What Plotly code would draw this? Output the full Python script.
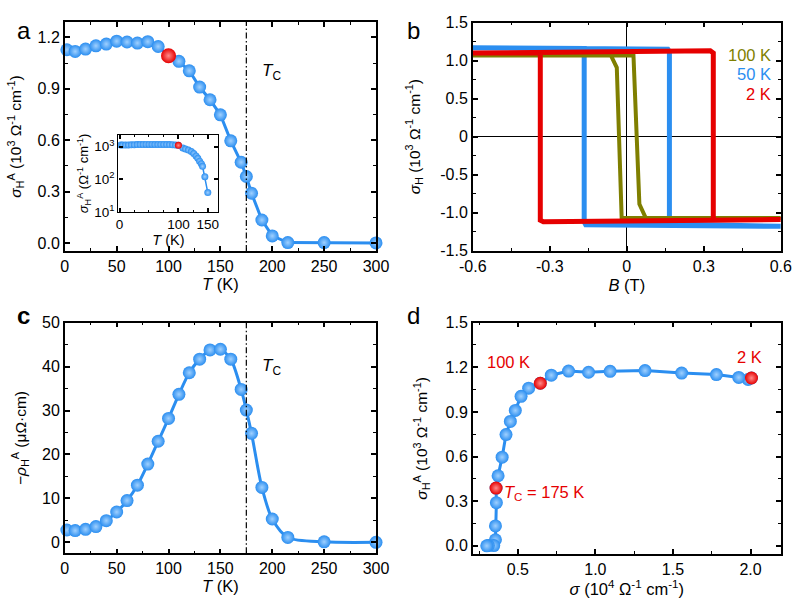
import plotly.graph_objects as go

# ---------------- data ----------------
T = [2, 10, 20, 30, 40, 50, 60, 70, 80, 90, 100, 110, 120, 130, 140, 150, 160, 170, 175, 180, 190, 200, 215, 250, 300]
sigma_AH = [1.128, 1.118, 1.132, 1.151, 1.161, 1.178, 1.173, 1.167, 1.175, 1.147, 1.093, 1.060, 1.005, 0.910, 0.836,
            0.748, 0.596, 0.471, 0.388, 0.290, 0.134, 0.041, 0.002, 0.002, 0.000]
rho_AH = [2.8, 2.66, 2.96, 3.57, 4.93, 6.9, 9.5, 13.0, 17.8, 23.0, 28.2, 33.7, 38.6, 41.7, 43.8, 43.95, 41.7, 34.8,
          30.1, 24.8, 12.5, 5.3, 1.1, 0.1, 0.0]
sigma_xx = [2.006, 1.984, 1.924, 1.78, 1.556, 1.32, 1.095, 0.956, 0.827, 0.716, 0.645, 0.57, 0.521, 0.484, 0.452,
            0.424, 0.399, 0.373, 0.36, 0.362, 0.356, 0.356, 0.345, 0.31, 0.30]

inset_T = [2, 5, 10, 15, 20, 25, 30, 35, 40, 45, 50, 55, 60, 65, 70, 75, 80, 85, 90, 95, 100,
           107.6, 112, 117, 122, 126, 130, 133, 136, 139, 141, 145, 150]
inset_sigma = [1130, 1120, 1120, 1130, 1140, 1150, 1160, 1170, 1170, 1180, 1180, 1180, 1170, 1170, 1170, 1170,
               1170, 1160, 1150, 1120, 1100, 910, 850, 790, 710, 620, 520, 440, 360, 300, 250, 120, 39]

# Hall loops (nodes of the loop path)
B_2K = [-0.60, 0.325, 0.337, 0.337, 0.60, -0.325, -0.337, -0.337, -0.60]
s_2K = [1.10, 1.13, 1.10, -1.10, -1.09, -1.12, -1.10, 1.10, 1.10]
B_50K = [-0.60, 0.16, 0.166, 0.166, 0.60, -0.16, -0.166, -0.166, -0.60]
s_50K = [1.17, 1.15, 1.12, -1.15, -1.18, -1.16, -1.12, 1.16, 1.17]
B_100K = [-0.60, 0.026, 0.049, 0.074, 0.60, -0.02, -0.039, -0.062, -0.60]
s_100K = [1.07, 1.07, -0.886, -1.07, -1.07, -1.07, 0.91, 1.07, 1.07]

highlight_a = [100]
highlight_d = [2, 100, 175]

b_y_ticks = [-1.5, -1.0, -0.5, 0, 0.5, 1.0, 1.5]
b_y_text = ["-1.5", "-1.0", "-0.5", "0", "0.5", "1.0", "1.5"]
b_x_ticks = [-0.6, -0.3, 0, 0.3, 0.6]
b_x_text = ["-0.6", "-0.3", "0", "0.3", "0.6"]
inset_x_ticks = [0, 100, 150]
inset_y_ticks = [10, 100, 1000]
inset_y_text = ["10<sup>1</sup>", "10<sup>2</sup>", "10<sup>3</sup>"]

# ---------------- style ----------------
BLUE = "#2b8ef0"
HILITE = "#9fd0ff"
RED = "#e60000"
OLIVE = "#7f7f00"
FONT = "Liberation Sans, Arial, sans-serif"
DASHDOT = "6px,2.5px,1.5px,2.5px"


def ball(size, color=BLUE):
    return dict(size=size, color=color, gradient=dict(type="radial", color=HILITE if color == BLUE else "#ff8a8a"),
                line=dict(width=0))


def pick(xs, ys, keys):
    idx = [T.index(k) for k in keys]
    return [xs[i] for i in idx], [ys[i] for i in idx]


fig = go.Figure()

# panel a
fig.add_trace(go.Scatter(x=T, y=sigma_AH, mode="lines+markers", line=dict(color=BLUE, width=3),
                         marker=ball(13), cliponaxis=False, xaxis="x", yaxis="y"))
hx, hy = pick(T, sigma_AH, highlight_a)
fig.add_trace(go.Scatter(x=hx, y=hy, mode="markers", marker=ball(15, RED), cliponaxis=False, xaxis="x", yaxis="y"))

# inset
fig.add_trace(go.Scatter(x=inset_T, y=inset_sigma, mode="lines+markers", line=dict(color=BLUE, width=1.5),
                         marker=ball(7), cliponaxis=False, xaxis="x5", yaxis="y5"))
ii = [inset_T.index(k) for k in highlight_a]
fig.add_trace(go.Scatter(x=[inset_T[i] for i in ii], y=[inset_sigma[i] for i in ii], mode="markers",
                         marker=ball(7, RED), cliponaxis=False, xaxis="x5", yaxis="y5"))

# panel b
fig.add_trace(go.Scatter(x=B_50K, y=s_50K, mode="lines", line=dict(color=BLUE, width=5), xaxis="x2", yaxis="y2"))
fig.add_trace(go.Scatter(x=B_100K, y=s_100K, mode="lines", line=dict(color=OLIVE, width=4), xaxis="x2", yaxis="y2"))
fig.add_trace(go.Scatter(x=B_2K, y=s_2K, mode="lines", line=dict(color=RED, width=5), xaxis="x2", yaxis="y2"))

# panel c
fig.add_trace(go.Scatter(x=T, y=rho_AH, mode="lines+markers", line=dict(color=BLUE, width=3, shape="spline", smoothing=0.8),
                         marker=ball(13), cliponaxis=False, xaxis="x3", yaxis="y3"))

# panel d
fig.add_trace(go.Scatter(x=sigma_xx, y=sigma_AH, mode="lines+markers", line=dict(color=BLUE, width=3),
                         marker=ball(13), cliponaxis=False, xaxis="x4", yaxis="y4"))
dx, dy = pick(sigma_xx, sigma_AH, highlight_d)
fig.add_trace(go.Scatter(x=dx, y=dy, mode="markers", marker=ball(13, RED), cliponaxis=False, xaxis="x4", yaxis="y4"))


def ax(**kw):
    base = dict(showline=True, linecolor="black", linewidth=1.5, mirror="ticks", ticks="inside", ticklen=5,
                tickwidth=1.5, tickcolor="black", showgrid=False, zeroline=False, automargin=False,
                tickfont=dict(size=16, color="black", family=FONT),
                title_font=dict(size=16.5, color="black", family=FONT),
                minor=dict(ticks="inside", ticklen=3, tickwidth=1.2, tickcolor="black", showgrid=False))
    minor = kw.pop("minor", None)
    base.update(kw)
    if minor:
        base["minor"].update(minor)
    return base


sH_title = "<i>σ</i><sub>H</sub><sup>A</sup> (10<sup>3</sup> Ω<sup>-1</sup> cm<sup>-1</sup>)"
YT = dict(size=15.5, color="black", family=FONT)

fig.update_layout(
    width=800, height=607, margin=dict(l=0, r=0, t=0, b=0),
    paper_bgcolor="white", plot_bgcolor="white", showlegend=False,
    font=dict(family=FONT, color="black"),
    xaxis=ax(domain=[0.081, 0.47], range=[0, 300], dtick=50, minor=dict(dtick=25),
             title=dict(text="<i>T</i> (K)", standoff=4), anchor="y"),
    yaxis=ax(domain=[0.5865, 0.9638], range=[-0.047, 1.29], dtick=0.3, tickformat=".1f", minor=dict(dtick=0.15),
             title=dict(text=sH_title, standoff=12, font=YT), anchor="x"),
    xaxis2=ax(domain=[0.591, 0.976], range=[-0.6, 0.6], tickvals=b_x_ticks, ticktext=b_x_text,
              minor=dict(dtick=0.15, tick0=0), title=dict(text="<i>B</i> (T)", standoff=6), anchor="y2",
              zeroline=True, zerolinecolor="black", zerolinewidth=1.2, layer="above traces"),
    yaxis2=ax(domain=[0.587, 0.9626], range=[-1.5, 1.5], tickvals=b_y_ticks, ticktext=b_y_text,
              minor=dict(dtick=0.25, tick0=0),
              title=dict(text="<i>σ</i><sub>H</sub> (10<sup>3</sup> Ω<sup>-1</sup> cm<sup>-1</sup>)", standoff=16,
                         font=YT),
              anchor="x2", zeroline=True, zerolinecolor="black", zerolinewidth=1.2, layer="above traces"),
    xaxis3=ax(domain=[0.081, 0.47], range=[0, 300], dtick=50, minor=dict(dtick=25),
              title=dict(text="<i>T</i> (K)", standoff=3), anchor="y3"),
    yaxis3=ax(domain=[0.0885, 0.4684], range=[-2.5, 50], dtick=10, minor=dict(dtick=5),
              title=dict(text="−<i>ρ</i><sub>H</sub><sup>A</sup> (μΩ·cm)", standoff=12, font=YT), anchor="x3"),
    xaxis4=ax(domain=[0.591, 0.976], range=[0.21, 2.195], tickvals=[0.5, 1.0, 1.5, 2.0], tickformat=".1f",
              minor=dict(dtick=0.25, tick0=0),
              title=dict(text="<i>σ</i> (10<sup>4</sup> Ω<sup>-1</sup> cm<sup>-1</sup>)", standoff=3), anchor="y4"),
    yaxis4=ax(domain=[0.0873, 0.4684], range=[-0.055, 1.5], dtick=0.3, tickformat=".1f", minor=dict(dtick=0.15),
              title=dict(text=sH_title, standoff=14, font=YT), anchor="x4"),
    xaxis5=ax(domain=[0.148, 0.273], range=[-2, 168], tickvals=inset_x_ticks, minor=dict(dtick=25, ticklen=2),
              tickfont=dict(size=13.5), ticklen=4, linewidth=1.2,
              title=dict(text="<i>T</i> (K)", standoff=2, font=dict(size=14.5)), anchor="y5"),
    yaxis5=ax(domain=[0.651, 0.7776], type="log", range=[1, 3.36], tickvals=inset_y_ticks, ticktext=inset_y_text,
              tickfont=dict(size=13.5), ticklen=4, linewidth=1.2, minor=dict(ticks=""),
              title=dict(text="<i>σ</i><sub>H</sub><sup>A</sup> (Ω<sup>-1</sup> cm<sup>-1</sup>)", standoff=2,
                         font=dict(size=13)), anchor="x5"),
)

# vertical Tc lines
for xr, yr in (("x", "y"), ("x3", "y3")):
    fig.add_shape(type="line", xref=xr, yref=yr + " domain", x0=175, x1=175, y0=0, y1=1,
                  line=dict(color="black", width=1.2, dash=DASHDOT))

tc = "<i>T</i><sub>C</sub>"
ann = [
    dict(text=tc, x=188, y=1.0, xref="x", yref="y", xanchor="left", font=dict(size=17)),
    dict(text=tc, x=188, y=40, xref="x3", yref="y3", xanchor="left", font=dict(size=17)),
    dict(text="100 K", x=0.568, y=1.079, xref="x2", yref="y2", xanchor="right", font=dict(size=16.5, color=OLIVE)),
    dict(text="50 K", x=0.568, y=0.825, xref="x2", yref="y2", xanchor="right", font=dict(size=16.5, color=BLUE)),
    dict(text="2 K", x=0.568, y=0.562, xref="x2", yref="y2", xanchor="right", font=dict(size=16.5, color=RED)),
    dict(text="100 K", x=0.441, y=1.233, xref="x4", yref="y4", font=dict(size=16.5, color=RED)),
    dict(text="2 K", x=1.995, y=1.267, xref="x4", yref="y4", font=dict(size=16.5, color=RED)),
    dict(text="<i>T</i><sub>C</sub> = 175 K", x=0.40, y=0.355, xref="x4", yref="y4", xanchor="left",
         font=dict(size=16.5, color=RED)),
    dict(text="a", x=15 / 800, y=1 - 15 / 607, xref="paper", yref="paper", font=dict(size=24)),
    dict(text="b", x=413 / 800, y=1 - 15 / 607, xref="paper", yref="paper", font=dict(size=24)),
    dict(text="<b>c</b>", x=15 / 800, y=1 - 315 / 607, xref="paper", yref="paper", font=dict(size=24)),
    dict(text="d", x=413 / 800, y=1 - 315 / 607, xref="paper", yref="paper", font=dict(size=24)),
]
for a in ann:
    a.setdefault("showarrow", False)
    a["font"].setdefault("color", "black")
    a["font"].setdefault("family", FONT)
    fig.add_annotation(**a)

fig.write_html("out.html", config={"displayModeBar": False},
               post_script="document.body.style.margin='0px';document.body.style.overflow='hidden';")
